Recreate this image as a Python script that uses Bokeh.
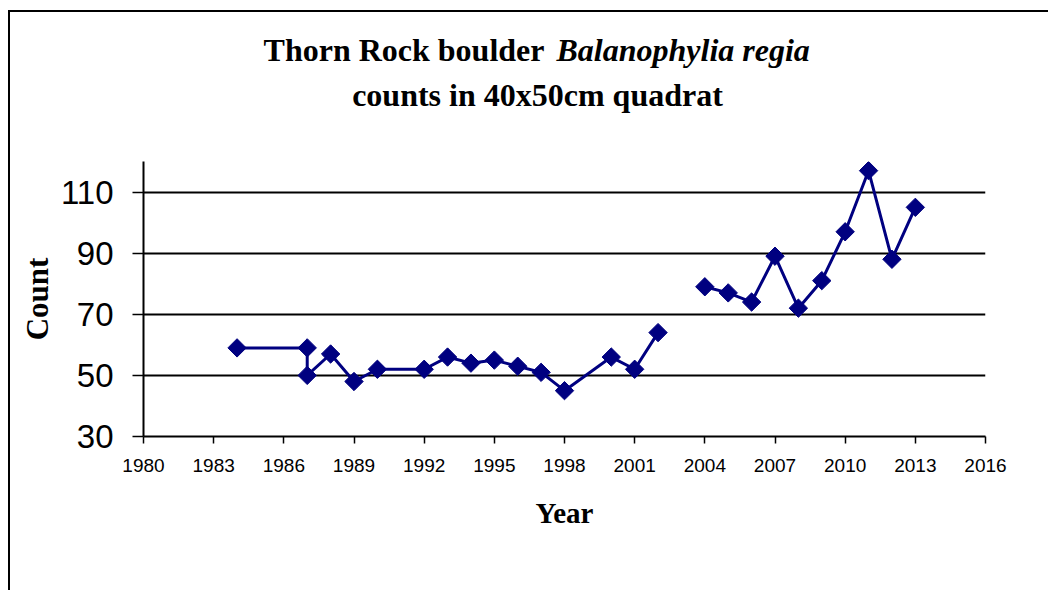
import math
from bokeh.plotting import figure
from bokeh.models import FixedTicker, Label, ColumnDataSource, Range1d
from bokeh.embed import file_html
from bokeh.resources import INLINE

# ---- data ----
years = [1984, 1987, 1987, 1988, 1989, 1990, 1992, 1993, 1994, 1995, 1996, 1997,
         1998, 2000, 2001, 2002, 2003, 2004, 2005, 2006, 2007, 2008, 2009, 2010,
         2011, 2012, 2013]
counts = [59, 59, 50, 57, 48, 52, 52, 56, 54, 55, 53, 51,
          45, 56, 52, 64, float("nan"), 79, 77, 74, 89, 72, 81, 97,
          117, 88, 105]
x_ticks = list(range(1980, 2017, 3))
y_ticks = [30, 50, 70, 90, 110]
title_plain = "Thorn Rock boulder"
title_italic = "Balanophylia regia"
title_line2 = "counts in 40x50cm quadrat"
x_label = "Year"
y_label = "Count"

NAVY = "#000080"
SERIF = "Liberation Serif"
SANS = "Liberation Sans"

src = ColumnDataSource(data=dict(x=years, y=counts))

p = figure(width=1040, height=580,
           x_range=Range1d(1980, 2016), y_range=Range1d(30, 120),
           output_backend="svg", toolbar_location=None,
           min_border_left=133, min_border_right=65,
           min_border_top=149, min_border_bottom=156)
p.styles = {"margin-top": "10px", "margin-left": "8px",
            "border-top": "2px solid #000", "border-left": "2px solid #000"}
p.background_fill_color = "white"
p.border_fill_color = "white"
p.outline_line_color = None

# grid
p.xgrid.grid_line_color = None
p.ygrid.grid_line_color = "black"
p.ygrid.grid_line_width = 2
p.ygrid.ticker = FixedTicker(ticks=y_ticks)

# x axis
p.xaxis.ticker = FixedTicker(ticks=x_ticks)
p.xaxis.axis_line_color = "black"
p.xaxis.axis_line_width = 2
p.xaxis.major_tick_line_width = 1.5
p.xaxis.major_tick_out = 7
p.xaxis.major_tick_in = 0
p.xaxis.minor_tick_line_color = None
p.xaxis.major_label_text_font = SANS
p.xaxis.major_label_text_font_size = "19px"
p.xaxis.major_label_text_color = "black"
p.xaxis.major_label_standoff = 15
p.xaxis.axis_label = x_label
p.xaxis.axis_label_text_font = SERIF
p.xaxis.axis_label_text_font_style = "bold"
p.xaxis.axis_label_text_font_size = "29px"
p.xaxis.axis_label_text_color = "black"
p.xaxis.axis_label_standoff = 22

# y axis
p.yaxis.ticker = FixedTicker(ticks=y_ticks)
p.yaxis.axis_line_color = "black"
p.yaxis.axis_line_width = 2
p.yaxis.major_tick_line_width = 1.5
p.yaxis.major_tick_out = 11
p.yaxis.major_tick_in = 0
p.yaxis.minor_tick_line_color = None
p.yaxis.major_label_text_font = SANS
p.yaxis.major_label_text_font_size = "33px"
p.yaxis.major_label_text_color = "black"
p.yaxis.major_label_standoff = 19
p.yaxis.axis_label = y_label
p.yaxis.axis_label_text_font = SERIF
p.yaxis.axis_label_text_font_style = "bold"
p.yaxis.axis_label_text_font_size = "31px"
p.yaxis.axis_label_text_color = "black"
p.yaxis.axis_label_standoff = 3

# series
p.line("x", "y", source=src, line_color=NAVY, line_width=3)
p.scatter("x", "y", source=src, marker="square", size=13, angle=math.pi / 4,
          fill_color=NAVY, line_color=NAVY)

# title: labels in stacked top side panels (screen px from each panel's bottom-left)
common = dict(x_units="screen", y_units="screen", text_baseline="alphabetic",
              text_font=SERIF, text_font_size="32px", text_color="black")
p.add_layout(Label(x=394, y=67, text=title_line2, text_align="center",
                   text_font_style="bold", **common), "above")
p.add_layout(Label(x=401, y=76, text=title_plain, text_align="right",
                   text_font_style="bold", **common), "above")
p.add_layout(Label(x=413, y=40, text=title_italic, text_align="left",
                   text_font_style="bold italic", **common), "above")

open("out.html", "w").write(file_html(p, INLINE))
